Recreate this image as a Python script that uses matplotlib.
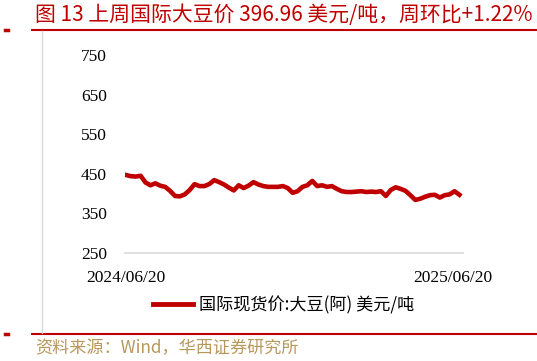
import numpy as np
import pandas as pd
import matplotlib
matplotlib.use('Agg')
from matplotlib import pyplot as plt
from matplotlib.lines import Line2D

plt.rcParams['font.family'] = ['Noto Sans CJK SC', 'DejaVu Sans']

# 国际现货价:大豆(阿), 美元/吨
price = [447, 444, 443, 445, 428, 421, 426, 420, 417, 407, 394, 393, 398, 409,
         424, 419, 419, 424, 434, 429, 423, 415, 408, 421, 414, 420, 429, 423,
         419, 417, 417, 417, 419, 414, 402, 406, 417, 421, 432, 419, 421, 417,
         419, 412, 406, 404, 404, 405, 406, 404, 405, 404, 406, 394, 409, 416,
         412, 407, 396, 384, 387, 392, 396, 397, 390, 396, 398, 406, 396.96]
dates = pd.date_range('2024-06-20', '2025-06-27', periods=len(price))
xtick_dates = pd.to_datetime(['2024-06-20', '2025-06-20'])
xtick_labels = ['2024/06/20', '2025/06/20']
yticks = [250, 350, 450, 550, 650, 750]

red = '#C00000'
serif = 'Liberation Serif'

fig = plt.figure(figsize=(5.37, 3.61), dpi=100)
ax = fig.add_axes([125 / 537, 1 - 253 / 361, 338 / 537, 198 / 361])
ax.plot(dates, price, color=red, lw=3.3, solid_joinstyle='round')
ax.set_ylim(250, 750)
ax.set_xlim(dates[0] - pd.Timedelta(days=1), dates[-1] + pd.Timedelta(days=4))
ax.set_yticks(yticks)
ax.set_yticklabels([str(v) for v in yticks], family=serif, fontsize=12.5)
ax.set_xticks(xtick_dates)
ax.set_xticklabels(xtick_labels, family=serif, fontsize=12.5)
ax.tick_params(axis='y', length=0, pad=13)
ax.tick_params(axis='x', length=0, pad=12)
for s in ['left', 'right', 'top']:
    ax.spines[s].set_visible(False)
ax.spines['bottom'].set_color('#D9D9D9')
ax.spines['bottom'].set_linewidth(1.2)

# legend
leg = ax.legend([Line2D([0], [0], color=red, lw=3.5)], ['国际现货价:大豆(阿) 美元/吨'],
                loc='center', bbox_to_anchor=(284 / 537, 1 - 305 / 361),
                bbox_transform=fig.transFigure, frameon=False, fontsize=12.3,
                handlelength=2.3, handletextpad=0.4)

# frame decorations
fig.text(35 / 537, 1 - 15 / 361, '图 13 上周国际大豆价 396.96 美元/吨，周环比+1.22%',
         color=red, fontsize=15, va='center', ha='left')
fig.add_artist(Line2D([32 / 537, 1], [1 - 30 / 361] * 2, color=red, lw=1.5))
fig.add_artist(Line2D([32 / 537, 1], [1 - 334 / 361] * 2, color=red, lw=1.5))
fig.add_artist(Line2D([5 / 537, 8 / 537], [1 - 30 / 361] * 2, color=red, lw=2.5))
fig.add_artist(Line2D([5 / 537, 8 / 537], [1 - 334 / 361] * 2, color=red, lw=2.5))
fig.add_artist(Line2D([42 / 537] * 2, [1 - 31 / 361, 1 - 333 / 361], color='#D9D9D9', lw=1))
fig.text(35 / 537, 1 - 348 / 361, '资料来源：Wind，华西证券研究所',
         color='#B8975A', fontsize=12.3, va='center', ha='left')

fig.savefig('out.png', dpi=100)
